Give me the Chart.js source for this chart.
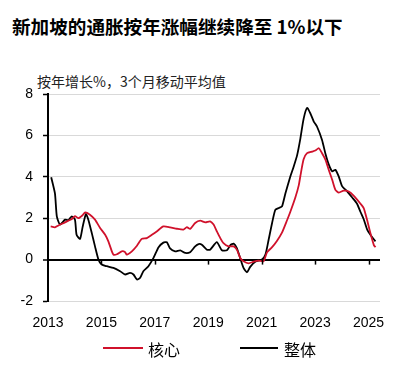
<!DOCTYPE html>
<html lang="zh">
  <head>
    <meta charset="utf-8" />
    <title>新加坡通胀</title>
    <style>
      * {
        margin: 0;
        padding: 0;
      }
      body {
        width: 417px;
        height: 366px;
        background: #fff;
        position: relative;
        overflow: hidden;
        font-family: "Noto Sans CJK SC", "Liberation Sans", sans-serif;
      }
      .title {
        position: absolute;
        left: 12px;
        top: 12px;
        font-size: 18.6px;
        font-weight: bold;
        color: #000;
        white-space: nowrap;
      }
      .subtitle {
        position: absolute;
        left: 37px;
        top: 71px;
        font-size: 14px;
        color: #222;
        white-space: nowrap;
      }
      .legend {
        position: absolute;
        top: 337px;
        left: 0;
        font-size: 16px;
        color: #000;
      }
      .legend span {
        position: absolute;
        white-space: nowrap;
      }
      .legend .line {
        height: 2px;
        top: 10px;
      }
      #chart {
        position: absolute;
        left: 0;
        top: 0;
      }
    </style>
  </head>
  <body>
    <div class="title">新加坡的通胀按年涨幅继续降至 1%以下</div>
    <div class="subtitle">按年增长%，3个月移动平均值</div>
    <canvas id="chart" width="417" height="366"></canvas>
    <div class="legend">
      <span class="line" style="left:103px;width:40px;background:#d0112b"></span>
      <span style="left:148px;top:0">核心</span>
      <span class="line" style="left:240px;width:38px;background:#000"></span>
      <span style="left:284px;top:0">整体</span>
    </div>
    <script src="https://cdn.jsdelivr.net/npm/chart.js/dist/chart.umd.min.js"></script>
    <script>
      // core inflation (red)
      const coreX = [2013.1, 2013.26, 2013.39, 2013.64, 2013.89, 2014.01, 2014.14, 2014.3, 2014.39, 2014.57, 2014.76, 2014.95,
        2015.14, 2015.26, 2015.39, 2015.45, 2015.58, 2015.76, 2015.88, 2015.95, 2016.14, 2016.33, 2016.51, 2016.7, 2016.89,
        2017.07, 2017.32, 2017.57, 2017.83, 2018.07, 2018.2, 2018.32, 2018.51, 2018.7, 2018.89, 2019.07, 2019.2, 2019.32,
        2019.45, 2019.57, 2019.76, 2019.95, 2020.07, 2020.2, 2020.32, 2020.51, 2020.7, 2020.88, 2021.07, 2021.2, 2021.39,
        2021.57, 2021.76, 2021.95, 2022.07, 2022.26, 2022.39, 2022.45, 2022.57, 2022.7, 2022.89, 2023.01, 2023.14, 2023.26,
        2023.39, 2023.51, 2023.64, 2023.76, 2023.89, 2024.07, 2024.26, 2024.45, 2024.7, 2024.82, 2024.95, 2025.07, 2025.2, 2025.26];
      const coreY = [1.6, 1.56, 1.65, 1.8, 1.96, 2.1, 2.0, 2.15, 2.28, 2.17, 1.93, 1.53,
        1.2, 0.88, 0.4, 0.24, 0.26, 0.4, 0.37, 0.24, 0.4, 0.67, 1.0, 1.04, 1.2,
        1.36, 1.6, 1.56, 1.49, 1.45, 1.57, 1.48, 1.77, 1.88, 1.8, 1.85, 1.69, 1.37,
        1.04, 0.8, 0.64, 0.64, 0.48, 0.08, -0.08, -0.18, -0.1, -0.05, -0.08, 0.35, 0.6,
        0.9, 1.3, 1.9, 2.3, 3.0, 3.6, 4.05, 4.85, 5.14, 5.22, 5.27, 5.38, 5.14,
        4.82, 4.34, 3.86, 3.37, 3.24, 3.33, 3.29, 3.08, 2.7, 2.49, 1.9, 1.28, 0.7, 0.6];

      // headline inflation (black)
      const headX = [2013.12, 2013.26, 2013.33, 2013.45, 2013.64, 2013.76, 2013.89, 2014.01, 2014.07, 2014.2, 2014.3, 2014.42,
        2014.51, 2014.64, 2014.76, 2014.89, 2015.01, 2015.2, 2015.45, 2015.7, 2015.89, 2016.07, 2016.2, 2016.33, 2016.45,
        2016.57, 2016.76, 2016.95, 2017.14, 2017.32, 2017.45, 2017.57, 2017.76, 2017.95, 2018.14, 2018.32, 2018.51, 2018.64,
        2018.76, 2018.95, 2019.07, 2019.32, 2019.51, 2019.7, 2019.83, 2019.95, 2020.07, 2020.2, 2020.32, 2020.45, 2020.57,
        2020.76, 2021.01, 2021.14, 2021.26, 2021.39, 2021.51, 2021.64, 2021.76, 2021.89, 2022.07, 2022.2, 2022.33, 2022.45,
        2022.57, 2022.7, 2022.82, 2022.95, 2023.07, 2023.26, 2023.39, 2023.51, 2023.64, 2023.76, 2023.89, 2024.01, 2024.2,
        2024.39, 2024.57, 2024.7, 2024.82, 2024.95, 2025.07, 2025.26];
      const headY = [3.98, 3.2, 2.09, 1.69, 1.93, 1.9, 2.09, 1.93, 1.2, 1.0, 1.6, 2.2,
        1.93, 1.28, 0.64, 0.0, -0.24, -0.32, -0.4, -0.56, -0.72, -0.64, -0.72, -0.96, -0.88,
        -0.56, -0.32, 0.08, 0.6, 0.82, 0.84, 0.54, 0.4, 0.45, 0.32, 0.36, 0.64, 0.75,
        0.72, 0.48, 0.48, 0.84, 0.45, 0.45, 0.7, 0.77, 0.56, 0.05, -0.4, -0.61, -0.35,
        -0.1, 0.0, 0.24, 0.96, 1.77, 2.4, 2.49, 2.57, 3.21, 4.0, 4.5, 5.06, 5.86,
        6.8, 7.33, 7.07, 6.67, 6.43, 5.78, 5.1, 4.6, 4.26, 4.34, 4.0, 3.55, 3.3,
        3.0, 2.7, 2.3, 1.95, 1.45, 1.2, 0.88];

      const yearTicks = [2013, 2015, 2017, 2019, 2021, 2023, 2025];

      const toPoints = (xs, ys) => xs.map((x, i) => ({ x, y: ys[i] }));

      // small tick marks hanging from the zero line
      const zeroTicks = {
        id: "zeroTicks",
        afterDatasetsDraw(chart) {
          const { ctx, scales } = chart;
          const y0 = scales.y.getPixelForValue(0);
          ctx.save();
          ctx.strokeStyle = "#000";
          ctx.lineWidth = 1.5;
          yearTicks.forEach((yr) => {
            if (yr === 2013) return;
            const x = Math.round(scales.x.getPixelForValue(yr)) + 0.5;
            ctx.beginPath();
            ctx.moveTo(x, y0);
            ctx.lineTo(x, y0 + 5);
            ctx.stroke();
          });
          ctx.restore();
        },
      };

      new Chart(document.getElementById("chart"), {
        type: "line",
        data: {
          datasets: [
            {
              label: "核心",
              data: toPoints(coreX, coreY),
              borderColor: "#d0112b",
              borderWidth: 1.8,
              pointRadius: 0,
              tension: 0.2,
            },
            {
              label: "整体",
              data: toPoints(headX, headY),
              borderColor: "#000",
              borderWidth: 1.8,
              pointRadius: 0,
              tension: 0.2,
            },
          ],
        },
        options: {
          responsive: false,
          animation: false,
          layout: { padding: { top: 94, right: 37, left: 0, bottom: 0 } },
          plugins: {
            legend: { display: false },
            tooltip: { enabled: false },
          },
          scales: {
            x: {
              type: "linear",
              min: 2013,
              max: 2025.43,
              afterBuildTicks(scale) {
                scale.ticks = yearTicks.map((v) => ({ value: v }));
              },
              afterFit(scale) {
                scale.height = 65;
              },
              grid: { display: false, drawTicks: false },
              border: { display: false },
              ticks: {
                padding: 14,
                color: "#000",
                maxRotation: 0,
                font: { family: "Liberation Sans", size: 14 },
                callback: (v) => String(v),
              },
            },
            y: {
              min: -2,
              max: 8,
              afterFit(scale) {
                scale.width = 48;
              },
              ticks: {
                stepSize: 2,
                padding: 10,
                color: "#000",
                font: { family: "Liberation Sans", size: 14 },
              },
              grid: {
                color: (c) => (c.tick && c.tick.value === 0 ? "#000" : "#d9d9d9"),
                lineWidth: (c) => (c.tick && c.tick.value === 0 ? 2 : 1),
                tickColor: "#000",
                tickWidth: 1.5,
                tickLength: 5,
              },
              border: { color: "#000", width: 2 },
            },
          },
        },
        plugins: [zeroTicks],
      });
    </script>
  </body>
</html>
